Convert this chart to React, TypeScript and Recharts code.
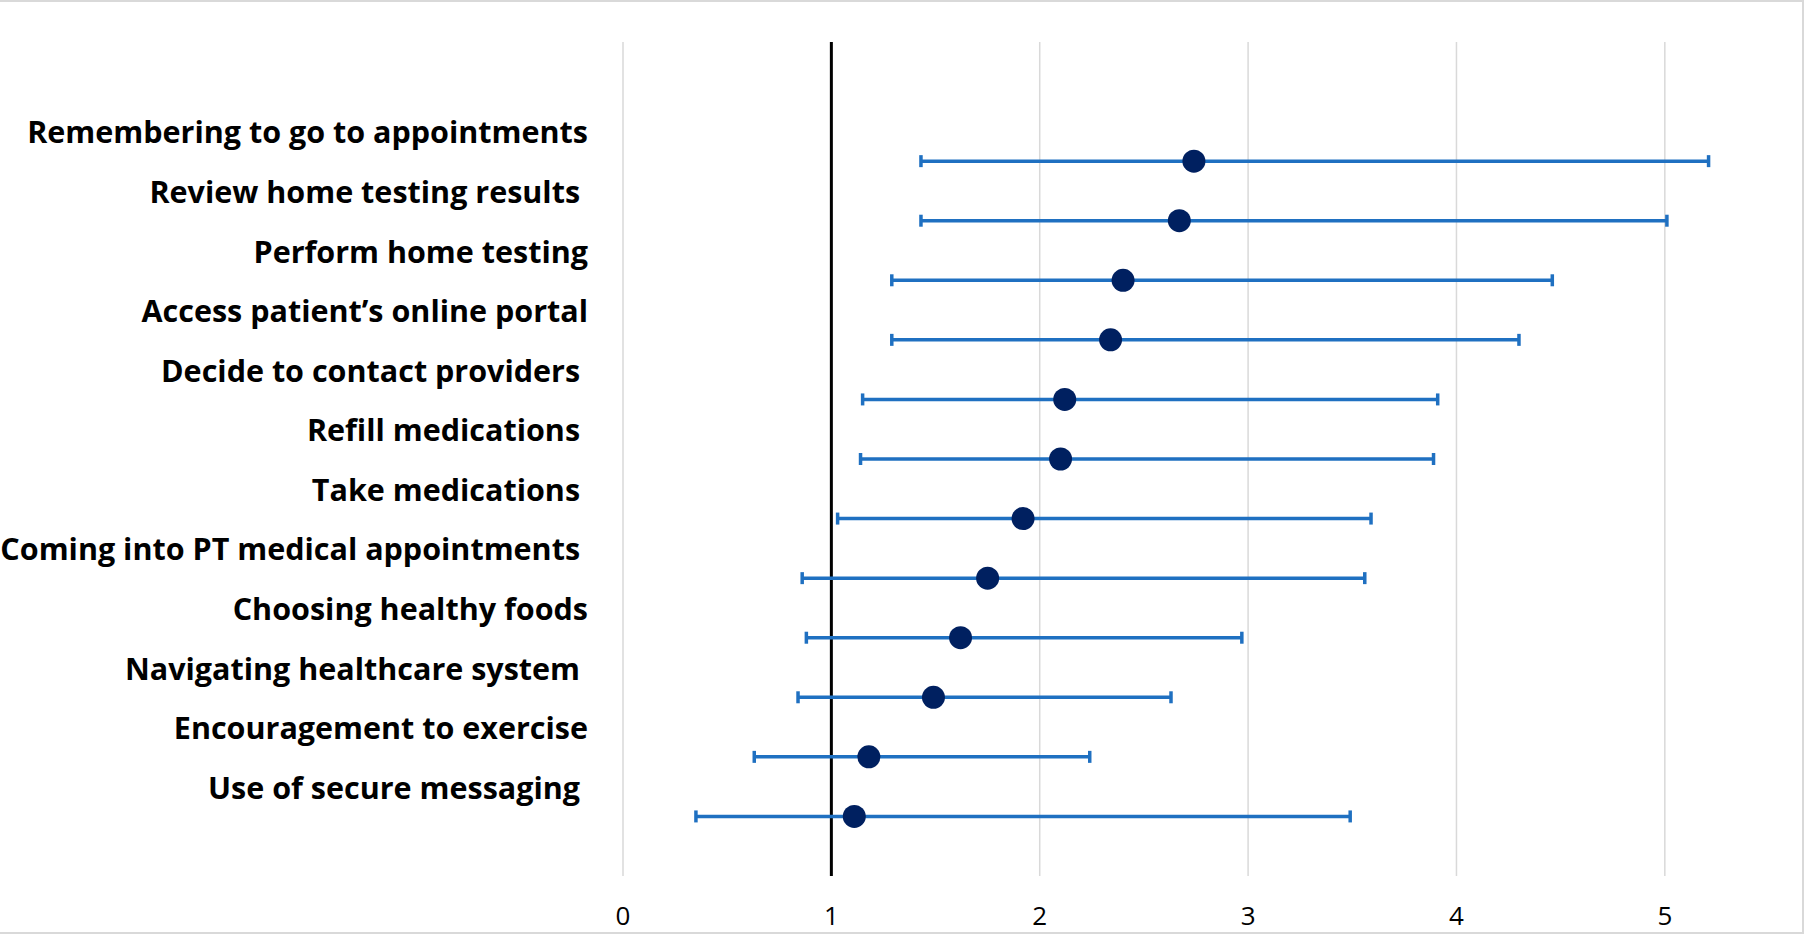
import React from "react";
import {
  ScatterChart,
  Scatter,
  XAxis,
  YAxis,
  CartesianGrid,
  ReferenceLine,
  ErrorBar,
} from "recharts";

// items listed top to bottom
const items = [
  "Remembering to go to appointments",
  "Review home testing results ",
  "Perform home testing",
  "Access patient\u2019s online portal",
  "Decide to contact providers ",
  "Refill medications ",
  "Take medications ",
  "Coming into PT medical appointments ",
  "Choosing healthy foods",
  "Navigating healthcare system ",
  "Encouragement to exercise",
  "Use of secure messaging ",
];
const means = [2.74, 2.67, 2.4, 2.34, 2.12, 2.1, 1.92, 1.75, 1.62, 1.49, 1.18, 1.11];
const lower = [1.43, 1.43, 1.29, 1.29, 1.15, 1.14, 1.03, 0.86, 0.88, 0.84, 0.63, 0.35];
const upper = [5.21, 5.01, 4.46, 4.3, 3.91, 3.89, 3.59, 3.56, 2.97, 2.63, 2.24, 3.49];
const xTicks = [0, 1, 2, 3, 4, 5];

const n = items.length;
const points = items.map((name, i) => ({
  name,
  x: means[i],
  y: n - i,
  err: [means[i] - lower[i], upper[i] - means[i]],
}));
const labelTicks = items.map((_, i) => n - i + 0.5);
const labelFor = (v: number) => items[n - Math.round(v - 0.5)] ?? "";

const FONT = "'Open Sans', 'Noto Sans', sans-serif";

const YTick = (props: any) => {
  const { x, y, payload } = props;
  return (
    <text
      x={x}
      y={y}
      textAnchor="end"
      dominantBaseline="central"
      fontFamily={FONT}
      fontWeight={700}
      fontSize={30.5}
      fill="#000"
      style={{ whiteSpace: "pre" }}
    >
      {labelFor(payload.value)}
    </text>
  );
};

const XTick = (props: any) => {
  const { x, y, payload } = props;
  return (
    <text
      x={x}
      y={y}
      dy={41}
      textAnchor="middle"
      fontFamily={FONT}
      fontSize={26}
      fill="#000"
    >
      {payload.value}
    </text>
  );
};

const Dot = (props: any) => (
  <circle cx={props.cx} cy={props.cy} r={11.5} fill="#002060" />
);

export default function App() {
  return (
    <div
      style={{
        position: "absolute",
        left: 0,
        top: 0,
        width: 1804,
        height: 934,
        boxSizing: "border-box",
        borderTop: "2px solid #d9d9d9",
        borderRight: "2px solid #d9d9d9",
        borderBottom: "2px solid #d9d9d9",
        background: "#fff",
      }}
    >
      <ScatterChart
        width={1802}
        height={932}
        margin={{ top: 40, right: 33, bottom: 10, left: 0 }}
      >
        <CartesianGrid
          horizontal={false}
          verticalValues={xTicks}
          stroke="#d9d9d9"
          strokeWidth={1.5}
        />
        <XAxis
          type="number"
          dataKey="x"
          domain={[0, 5.5]}
          ticks={xTicks}
          axisLine={false}
          tickLine={false}
          tick={<XTick />}
          height={48}
          interval={0}
        />
        <YAxis
          type="number"
          dataKey="y"
          domain={[0, 14]}
          ticks={labelTicks}
          axisLine={false}
          tickLine={false}
          tick={<YTick />}
          tickMargin={29}
          width={623}
          interval={0}
        />
        <ReferenceLine x={1} stroke="#000" strokeWidth={3} />
        <Scatter data={points} shape={<Dot />} isAnimationActive={false}>
          <ErrorBar
            dataKey="err"
            direction="x"
            width={6}
            stroke="#1f70c1"
            strokeWidth={3.5}
            isAnimationActive={false}
          />
        </Scatter>
      </ScatterChart>
    </div>
  );
}
